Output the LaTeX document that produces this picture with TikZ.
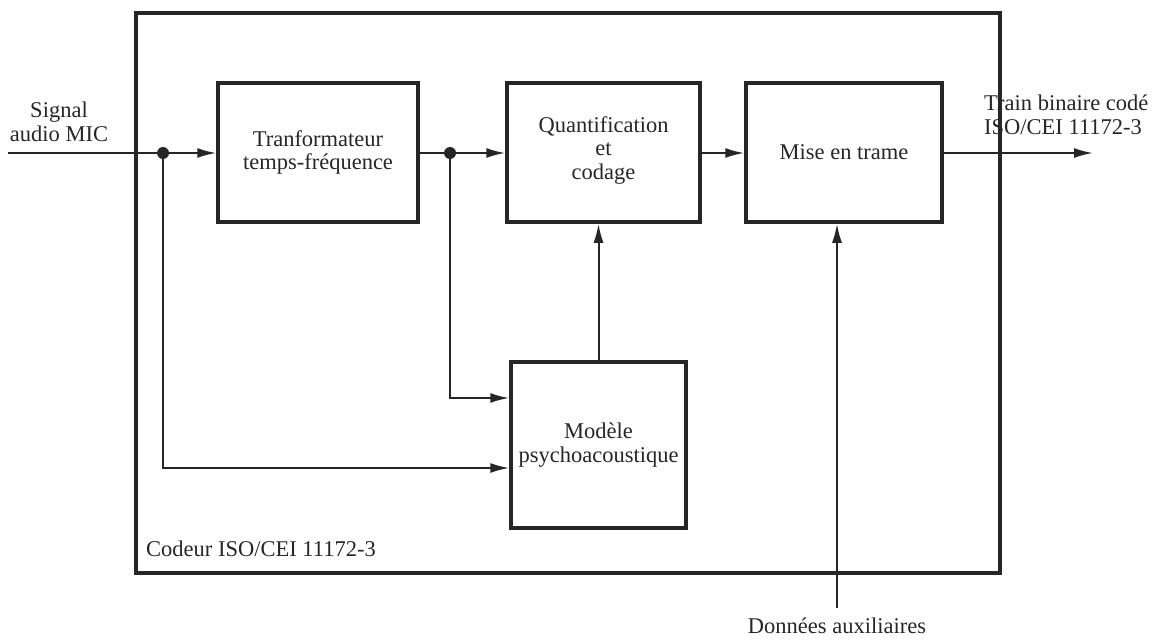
\documentclass[tikz,border=0pt]{standalone}
\usepackage{fontspec}
\setmainfont{Liberation Serif}
\usetikzlibrary{arrows.meta}
\definecolor{ink}{HTML}{262626}
\begin{document}
\begin{tikzpicture}[x=1pt,y=-1pt,
  blk/.style={draw=ink,line width=3.5pt,minimum width=#1,inner sep=0pt,align=center,font=\fontsize{22.5}{23.5}\selectfont,text=ink},
  conn/.style={draw=ink,line width=2pt},
  arr/.style={conn,-{Latex[length=19pt,width=10pt]}},
  lbl/.style={font=\fontsize{22.5}{23.5}\selectfont,text=ink,align=center,inner sep=0pt},
  dot/.style={circle,fill=ink,inner sep=0pt,minimum size=12pt}]
\useasboundingbox (0,0) rectangle (1155,639);
\node[draw=ink,line width=3.5pt,minimum width=864pt,minimum height=560pt,inner sep=0pt] (outer) at (568,293) {};
\node[blk=200pt,minimum height=139pt] (tf) at (318,152.5) {Tranformateur\\temps-fréquence};
\node[blk=193pt,minimum height=139pt] (qc) at (603.5,152.5) {};
\node[lbl] (qct) at (603.5,150.5) {Quantification\\et\\codage};
\node[blk=196pt,minimum height=139pt] (mt) at (844,152.5) {Mise en trame};
\node[blk=175pt,minimum height=166pt] (mp) at (598.5,445) {Modèle\\psychoacoustique};
\coordinate (in) at (8,153);
\coordinate (out) at (1093,153);
\coordinate (aux) at (837,608);
\node[dot] (d1) at (163,153) {};
\node[dot] (d2) at (450,153) {};
\node[lbl] (sig) at (59,122) {Signal\\audio MIC};
\node[lbl,anchor=west,align=left] (trn) at (984,115) {Train binaire codé\\ISO/CEI 11172-3};
\node[lbl,anchor=west] (cod) at (146,549) {Codeur ISO/CEI 11172-3};
\node[lbl] (don) at (837,626) {Données auxiliaires};
\draw[conn] (in) -- (d1.center);
\draw[arr] (d1.center) -- (tf.west |- d1);
\draw[conn] (tf.east |- d2) -- (d2.center);
\draw[arr] (d2.center) -- (qc.west |- d2);
\draw[arr] (qc.east |- 0,153) -- (mt.west |- 0,153);
\draw[arr] (mt.east |- 0,153) -- (out);
\draw[arr] (d2.center) |- (mp.west |- 0,398);
\draw[arr] (d1.center) |- (mp.west |- 0,468);
\draw[arr] (mp.north) -- (qc.south -| mp.north);
\draw[arr] (aux) -- (mt.south -| aux);
\end{tikzpicture}
\end{document}
